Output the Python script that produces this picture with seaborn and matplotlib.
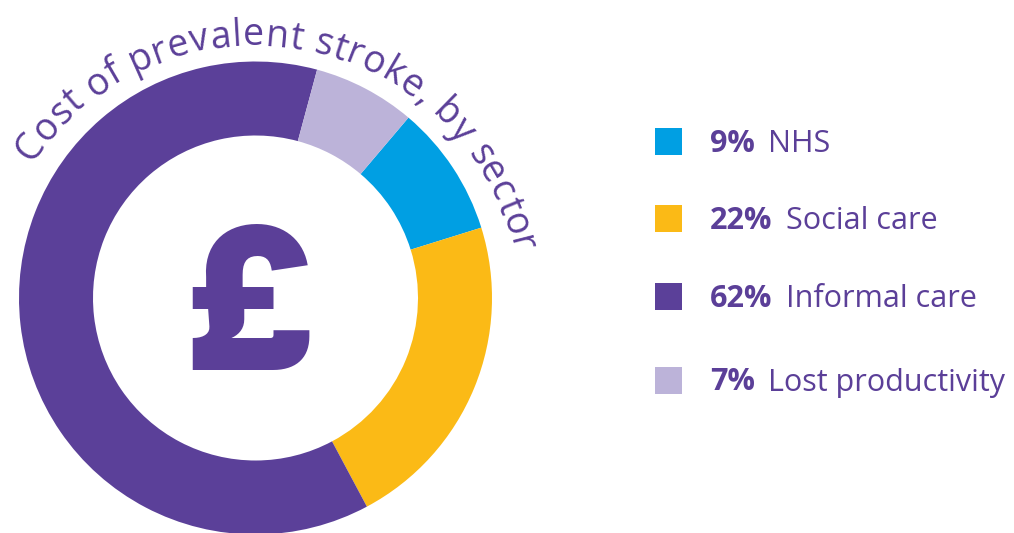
import numpy as np
import matplotlib
matplotlib.use("Agg")
import matplotlib.pyplot as plt
import seaborn as sns
from matplotlib import font_manager
from matplotlib.ft2font import FT2Font

sectors = ["NHS", "Social care", "Informal care", "Lost productivity"]
shares = [9, 22, 62, 7]
colors = ["#009fe3", "#fbba16", "#5b4099", "#bcb3d9"]
title = "Cost of prevalent stroke, by sector"

purple = "#5b3f98"
W, H = 1014, 533
FONT = "Open Sans"

sns.set_theme(style="white")
plt.rcParams["font.family"] = [FONT, "DejaVu Sans"]

fig = plt.figure(figsize=(W / 100, H / 100), dpi=100)
ax = fig.add_axes([0, 0, 1, 1])

# donut (pixel coords, y up)
cx, cy = 255.5, H - 298
r_out, r_in = 236.5, 162.5
ax.pie(shares, colors=colors, startangle=90 - 40.3, counterclock=False,
       center=(cx, cy), radius=r_out,
       wedgeprops=dict(width=r_out - r_in, linewidth=0))
ax.set_xlim(0, W)
ax.set_ylim(0, H)
ax.set_aspect("equal")
ax.axis("off")

ax.text(250, H - 370, "£", ha="center", va="baseline", fontsize=142,
        fontweight="black", color=purple, family=["Inter", "Lato"])

# curved title: first glyph centre at -53.5 deg, last at 75.8 deg
fs = 27
fp = font_manager.FontProperties(family=FONT, size=fs)
ft = FT2Font(font_manager.findfont(fp))
ft.set_size(fs, 100)
adv = np.array([ft.load_char(ord(ch)).linearHoriAdvance / 65536.0
                for ch in title])
tx, ty = 253, H - 311.5
rb = 266
a0, a1 = np.radians(-53.5), np.radians(75.8)
inner = adv.sum() - adv[0] / 2 - adv[-1] / 2
track = ((a1 - a0) * rb - inner) / (len(title) - 1)
adv = adv + track
pos = np.cumsum(adv) - adv / 2
pos = pos - pos[0]
for ch, s in zip(title, pos):
    th = a0 + s / rb
    ax.text(tx + rb * np.sin(th), ty + rb * np.cos(th), ch, fontsize=fs,
            color=purple, ha="center", va="baseline", rotation=-np.degrees(th),
            rotation_mode="anchor")

# legend
leg_y = [H - 141, H - 218.5, H - 296.5, H - 380]
ax.scatter([668] * 4, leg_y, s=(27 * 0.72) ** 2, marker="s", c=colors,
           linewidths=0)
fig.canvas.draw()
renderer = fig.canvas.get_renderer()
for sh, name, y in zip(shares, sectors, leg_y):
    t = ax.text(710, y - 10.5, f"{sh}%", fontsize=22, fontweight="bold",
                color=purple, ha="left", va="baseline")
    bb = t.get_window_extent(renderer)
    ax.text(bb.x1 + 13, y - 10.5, name, fontsize=22, color=purple,
            ha="left", va="baseline")

fig.savefig("out.png", dpi=100)
